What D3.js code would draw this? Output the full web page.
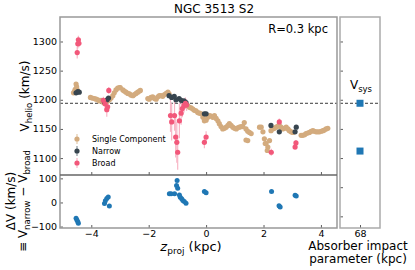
<!DOCTYPE html>
<html>
<head>
<meta charset="utf-8">
<script src="https://cdn.jsdelivr.net/npm/d3@7"></script>
<style>
  body { margin: 0; background: #fff; }
  text { font-family: "DejaVu Sans", sans-serif; fill: #000; }
</style>
</head>
<body>
<script>
// single component (z in kpc, heliocentric velocity in km/s)
var singleZ = [-4.62, -4.59, -4.56, -4.53, -4.51, -4.48,
  -4.03, -3.97, -3.89, -3.83, -3.77, -3.72, -3.66, -3.60, -3.54, -3.48, -3.43, -3.37, -3.31, -3.25,
  -3.20, -3.14, -3.08, -3.02, -2.99, -2.90, -2.85, -2.79, -2.73, -2.67, -2.61, -2.55, -2.50, -2.44,
  -2.38, -2.32, -2.29,
  -2.03, -1.98, -1.92, -1.86, -1.80, -1.74, -1.68, -1.63, -1.57, -1.51, -1.45, -1.39, -1.33, -1.29,
  -0.70, -0.64, -0.58, -0.52, -0.46, -0.41, -0.35, -0.29, -0.23, -0.17, -0.11, -0.06, 0.00,
  0.06, 0.12, 0.17, 0.23, 0.29, 0.35, 0.41, 0.46, 0.52, 0.58, 0.64, 0.70, 0.76, 0.81, 0.87, 0.93,
  0.99, 1.05, 1.10, 1.16, 1.22, 1.28, 1.33, 1.39, 1.45, 1.51, 1.57, 1.39, 1.45,
  1.86, 1.92, 1.98, 2.03, 2.09, 2.15, 2.21, 2.26, 2.32, 2.38, 2.44, 2.50, 2.55, 2.61, 2.67, 2.73,
  2.79, 2.85, 2.90, 2.96, 3.02, 2.13, 2.06,
  3.31, 3.37, 3.43, 3.48, 3.54, 3.60, 3.66, 3.72, 3.77, 3.83, 3.89, 3.95, 4.01, 4.07, 4.12, 4.18, 4.24];
var singleV = [1212, 1214, 1218, 1227, 1222, 1216,
  1204, 1203, 1202, 1201, 1200, 1198, 1199, 1196, 1194, 1196, 1198, 1200, 1203, 1207,
  1212, 1217, 1220, 1221, 1221, 1217, 1215, 1213, 1211, 1210, 1208, 1207, 1209, 1211,
  1213, 1215, 1216,
  1202, 1201, 1204, 1205, 1202, 1201, 1205, 1207, 1207, 1206, 1209, 1211, 1213, 1210,
  1192, 1190, 1187, 1186, 1184, 1182, 1181, 1178, 1177, 1176, 1170, 1164, 1165,
  1170, 1173, 1172, 1170, 1173, 1168, 1164, 1159, 1154, 1150, 1151, 1153, 1156, 1159, 1156, 1153,
  1151, 1150, 1152, 1153, 1154, 1154, 1161, 1150, 1146, 1144, 1142, 1131, 1130,
  1153, 1153, 1145, 1133, 1125, 1119, 1130, 1147, 1150, 1151, 1153, 1155, 1156, 1153, 1150, 1151,
  1153, 1150, 1147, 1145, 1144, 1113, 1125,
  1139, 1139, 1140, 1142, 1143, 1144, 1146, 1147, 1146, 1145, 1145, 1145, 1146, 1147, 1148, 1150, 1151];

// narrow component
var narrowZ = [-4.53, -4.47, -4.42, -3.54, -3.45, -3.40, -1.29, -1.20, -1.11, -1.05, -0.94, -0.87, -0.77, -0.70,
  -0.06, 0.00, 2.26, 2.55, 3.10, 3.14];
var narrowV = [1212, 1214, 1213, 1196, 1200, 1203, 1207, 1204, 1206, 1200, 1202, 1199, 1198, 1195,
  1176, 1176, 1156, 1145, 1145, 1153];

// broad component with errors
var broadZ = [-4.49, -4.47, -4.45, -4.43, -3.58, -3.52, -3.46, -3.43, -3.39,
  -1.24, -1.20, -1.10, -1.06, -1.02, -0.99, -0.93, -0.87, -0.83, -0.77, -0.72, -0.68,
  -0.06, 0.00, 2.27, 2.55, 3.10, 3.13];
var broadV = [1281, 1296, 1303, 1297, 1199, 1193, 1183, 1188, 1216,
  1173, 1162, 1173, 1136, 1127, 1110, 1164, 1177, 1185, 1190, 1194, 1191,
  1127, 1136, 1110, 1162, 1119, 1126];
var broadErr = [10, 8, 7, 7, 6, 8, 12, 8, 6,
  28, 32, 26, 35, 35, 30, 30, 20, 15, 12, 10, 10,
  10, 10, 6, 6, 5, 5];

// velocity difference narrow - broad
var deltaZ = [-4.53, -4.50, -4.47, -4.45, -3.54, -3.51, -3.46, -3.41, -3.37,
  -1.28, -1.22, -1.10, -1.03, -1.01, -0.99, -0.93, -0.90, -0.85, -0.81, -0.76, -0.70,
  -0.06, 0.00, 2.28, 2.54, 2.58, 3.10, 3.14];
var deltaV = [-66, -73, -80, -86, -4, 7, 16, 23, -15,
  36, 36, 36, 70, 91, 59, 31, 22, 15, 8, 4, -3,
  45, 40, 45, -14, -19, 30, 27];

var vsys = 1194;
var absorberImpact = ['68'];
var absorberV = [1194, 1112];

var xTicks = [-4, -2, 0, 2, 4];
var yTopTicks = [1100, 1150, 1200, 1250, 1300];
var yBotTicks = [-100, 0, 100];
var yRightTicks = [1000, 1050, 1100, 1150, 1200, 1250, 1300];

var legendLabels = ['Single Component', 'Narrow', 'Broad'];

var cSingle = '#d3ab7e', cNarrow = '#37454f', cBroad = '#f2587a', cBroadErr = '#f8b6c6', cBlue = '#1f77b4';

var W = 415, H = 270;
var main = {left: 60, right: 337, top: 17, mid: 175, bottom: 228};
var side = {left: 340, right: 380};

var svg = d3.select('body').append('svg')
  .attr('width', W)
  .attr('height', H);

var x = d3.scaleLinear().domain([-5.09, 4.56]).range([main.left, main.right]);
var yTop = d3.scaleLinear().domain([1071, 1342]).range([main.mid, main.top]);
var yBot = d3.scaleLinear().domain([-106, 114]).range([main.bottom, main.mid]);
var ySide = d3.scaleLinear().domain([980, 1342]).range([main.bottom, main.top]);
var xSide = d3.scalePoint().domain(absorberImpact).range([side.left, side.right]).padding(0.5);

var fmt = function(d) { return d < 0 ? '\u2212' + Math.abs(d) : String(d); };

function styleAxis(g) {
  g.select('.domain').remove();
  g.selectAll('.tick line').attr('stroke', '#333').attr('stroke-width', 0.8);
  g.selectAll('.tick text').style('font-size', '9.5px').attr('fill', '#000');
}

// axes
svg.append('g').attr('transform', 'translate(' + main.left + ',0)')
  .call(d3.axisLeft(yTop).tickValues(yTopTicks).tickSize(-3).tickPadding(3).tickFormat(fmt))
  .call(styleAxis);
svg.append('g').attr('transform', 'translate(' + main.left + ',0)')
  .call(d3.axisLeft(yBot).tickValues(yBotTicks).tickSize(-3).tickPadding(3).tickFormat(fmt))
  .call(styleAxis);
svg.append('g').attr('transform', 'translate(0,' + main.mid + ')')
  .call(d3.axisBottom(x).tickValues(xTicks).tickSize(-3).tickFormat(''))
  .call(styleAxis);
svg.append('g').attr('transform', 'translate(0,' + main.bottom + ')')
  .call(d3.axisBottom(x).tickValues(xTicks).tickSize(-3).tickPadding(2).tickFormat(fmt))
  .call(styleAxis);
svg.append('g').attr('transform', 'translate(' + side.left + ',0)')
  .call(d3.axisLeft(ySide).tickValues(yRightTicks).tickSize(-3).tickFormat(''))
  .call(styleAxis);
svg.append('g').attr('transform', 'translate(0,' + main.bottom + ')')
  .call(d3.axisBottom(xSide).tickSize(-3).tickPadding(2))
  .call(styleAxis);

// vsys dashed lines
[[main.left, main.right], [side.left, side.right]].forEach(function(r) {
  svg.append('line')
    .attr('x1', r[0]).attr('x2', r[1])
    .attr('y1', yTop(vsys)).attr('y2', yTop(vsys))
    .attr('stroke', '#222').attr('stroke-width', 0.9)
    .attr('stroke-dasharray', '3,2');
});

// upper panel marks
var upper = svg.append('g');
upper.selectAll('line.err').data(broadZ).enter().append('line')
  .attr('class', 'err')
  .attr('x1', function(d) { return x(d); })
  .attr('x2', function(d) { return x(d); })
  .attr('y1', function(d, i) { return yTop(broadV[i] - broadErr[i]); })
  .attr('y2', function(d, i) { return yTop(broadV[i] + broadErr[i]); })
  .attr('stroke', cBroadErr).attr('stroke-width', 1.2);

upper.selectAll('circle.single').data(singleZ).enter().append('circle')
  .attr('class', 'single')
  .attr('cx', function(d) { return x(d); })
  .attr('cy', function(d, i) { return yTop(singleV[i]); })
  .attr('r', 2.6)
  .attr('fill', cSingle);

upper.selectAll('circle.narrow').data(narrowZ).enter().append('circle')
  .attr('class', 'narrow')
  .attr('cx', function(d) { return x(d); })
  .attr('cy', function(d, i) { return yTop(narrowV[i]); })
  .attr('r', 2.6)
  .attr('fill', cNarrow);

upper.selectAll('circle.broad').data(broadZ).enter().append('circle')
  .attr('class', 'broad')
  .attr('cx', function(d) { return x(d); })
  .attr('cy', function(d, i) { return yTop(broadV[i]); })
  .attr('r', 2.6)
  .attr('fill', cBroad);

// lower panel
svg.selectAll('circle.delta').data(deltaZ).enter().append('circle')
  .attr('class', 'delta')
  .attr('cx', function(d) { return x(d); })
  .attr('cy', function(d, i) { return yBot(deltaV[i]); })
  .attr('r', 2.5)
  .attr('fill', cBlue);

// side panel squares
svg.selectAll('rect.abs').data(absorberV).enter().append('rect')
  .attr('class', 'abs')
  .attr('x', xSide('68') - 3.5)
  .attr('y', function(d) { return ySide(d) - 3.5; })
  .attr('width', 7).attr('height', 7)
  .attr('fill', cBlue);

// frames
svg.append('rect')
  .attr('x', main.left).attr('y', main.top)
  .attr('width', main.right - main.left).attr('height', main.bottom - main.top)
  .attr('fill', 'none').attr('stroke', '#999').attr('stroke-width', 1.5);
svg.append('line')
  .attr('x1', main.left).attr('x2', main.right)
  .attr('y1', main.mid).attr('y2', main.mid)
  .attr('stroke', '#666').attr('stroke-width', 1.5);
svg.append('rect')
  .attr('x', side.left).attr('y', main.top)
  .attr('width', side.right - side.left).attr('height', main.bottom - main.top)
  .attr('fill', 'none').attr('stroke', '#aaa').attr('stroke-width', 1.5);

// legend
var legendColors = [[cSingle, '#e3c9aa'], [cNarrow, '#8a949b'], [cBroad, cBroadErr]];
var legend = svg.append('g').attr('transform', 'translate(77,139)');
legendLabels.forEach(function(lab, i) {
  var g = legend.append('g').attr('transform', 'translate(0,' + (i * 12) + ')');
  g.append('line').attr('x1', 0).attr('x2', 0).attr('y1', -5).attr('y2', 5)
    .attr('stroke', legendColors[i][1]).attr('stroke-width', 1.2);
  g.append('circle').attr('r', 2.6).attr('fill', legendColors[i][0]);
  g.append('text').attr('x', 15).attr('dy', '0.35em').style('font-size', '8px').text(lab);
});

// texts
svg.append('text').attr('x', 214).attr('y', 13).attr('text-anchor', 'middle')
  .style('font-size', '12px').text('NGC 3513 S2');
svg.append('text').attr('x', 328).attr('y', 33).attr('text-anchor', 'end')
  .style('font-size', '11.5px').text('R=0.3 kpc');

var vs = svg.append('text').attr('x', 361).attr('y', 89).attr('text-anchor', 'middle')
  .style('font-size', '12px');
vs.append('tspan').text('V');
vs.append('tspan').attr('dy', 3).style('font-size', '8.5px').text('sys');

var yl = svg.append('text')
  .attr('transform', 'translate(29,96)rotate(-90)')
  .attr('text-anchor', 'middle').style('font-size', '12px');
yl.append('tspan').text('V');
yl.append('tspan').attr('dy', 3).style('font-size', '8.5px').text('helio');
yl.append('tspan').attr('dy', -3).text(' (km/s)');

svg.append('text')
  .attr('transform', 'translate(15,201)rotate(-90)')
  .attr('text-anchor', 'middle').style('font-size', '12px')
  .text('\u0394V (km/s)');
var dl2 = svg.append('text')
  .attr('transform', 'translate(27,201)rotate(-90)')
  .attr('text-anchor', 'middle').style('font-size', '12px');
dl2.append('tspan').text('\u2261 V');
dl2.append('tspan').attr('dy', 3).style('font-size', '8.5px').text('narrow');
dl2.append('tspan').attr('dy', -3).text(' \u2212 V');
dl2.append('tspan').attr('dy', 3).style('font-size', '8.5px').text('broad');

var xl = svg.append('text').attr('x', 191).attr('y', 251).attr('text-anchor', 'middle')
  .style('font-size', '13px');
xl.append('tspan').style('font-style', 'italic').text('z');
xl.append('tspan').attr('dy', 3).style('font-size', '9px').text('proj');
xl.append('tspan').attr('dy', -3).text(' (kpc)');

svg.append('text').attr('x', 358).attr('y', 250).attr('text-anchor', 'middle')
  .style('font-size', '12px').text('Absorber impact');
svg.append('text').attr('x', 358).attr('y', 263).attr('text-anchor', 'middle')
  .style('font-size', '12px').text('parameter (kpc)');
</script>
</body>
</html>
